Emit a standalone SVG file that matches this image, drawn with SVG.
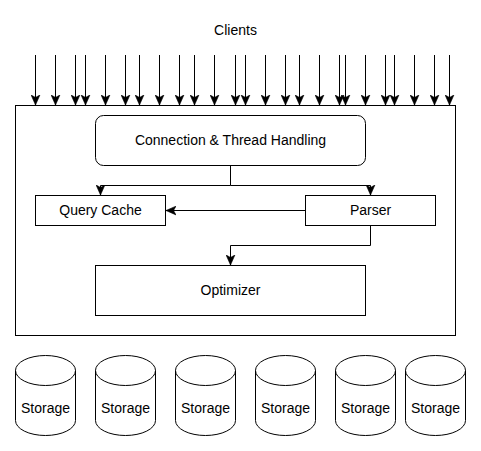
<svg xmlns="http://www.w3.org/2000/svg" width="481" height="451" viewBox="0 0 481 451">
<style>
.box{fill:#fff;stroke:#000;stroke-width:1}
.lbl{font-family:"Liberation Sans",Arial,Helvetica,sans-serif;font-size:14px;fill:#000;text-anchor:middle}
.edge{fill:none;stroke:#000;stroke-width:1}
</style>
<defs>
<marker id="arr" markerUnits="userSpaceOnUse" markerWidth="10" markerHeight="10" viewBox="0 0 8 8" refX="8" refY="4" orient="auto">
<path d="M0,0.5 L8,4 L0,7.5 L2,4 Z" fill="#000" stroke="#000" stroke-width="0.5"/>
</marker>
<g id="cyl">
<path class="box" d="M0,15 A30,15 0 0 1 60,15 V65 A30,15 0 0 1 0,65 Z"/>
<path class="edge" d="M0,15 A30,15 0 0 0 60,15"/>
</g>
</defs>
<rect width="481" height="451" fill="#fff"/>
<g id="clients-label"><text class="lbl" x="235.5" y="35">Clients</text></g>
<g id="server"><rect class="box" x="15.5" y="105.5" width="440" height="230"/></g>
<g id="connection"><rect class="box" x="95.5" y="115.5" width="270" height="50" rx="8" ry="8"/><text class="lbl" x="230.5" y="145">Connection &amp; Thread Handling</text></g>
<g id="query-cache"><rect class="box" x="35.5" y="195.5" width="130" height="30"/><text class="lbl" x="100.5" y="215">Query Cache</text></g>
<g id="parser"><rect class="box" x="305.5" y="195.5" width="130" height="30"/><text class="lbl" x="370.5" y="215">Parser</text></g>
<g id="optimizer"><rect class="box" x="95.5" y="265.5" width="270" height="50"/><text class="lbl" x="230.5" y="295">Optimizer</text></g>
<g id="connectors">
<path class="edge" d="M230.5,165.5 V185.5 H100.5 V195" marker-end="url(#arr)"/>
<path class="edge" d="M230.5,185.5 H370.5 V195" marker-end="url(#arr)"/>
<path class="edge" d="M305.5,210.5 H166" marker-end="url(#arr)"/>
<path class="edge" d="M370.5,225.5 V245.5 H230.5 V265" marker-end="url(#arr)"/>
<g id="client-arrows">
<path class="edge" d="M35.5,55 V105" marker-end="url(#arr)"/>
<path class="edge" d="M55.5,55 V105" marker-end="url(#arr)"/>
<path class="edge" d="M75.5,55 V105" marker-end="url(#arr)"/>
<path class="edge" d="M85.5,55 V105" marker-end="url(#arr)"/>
<path class="edge" d="M105.5,55 V105" marker-end="url(#arr)"/>
<path class="edge" d="M125.5,55 V105" marker-end="url(#arr)"/>
<path class="edge" d="M139.5,55 V105" marker-end="url(#arr)"/>
<path class="edge" d="M159.5,55 V105" marker-end="url(#arr)"/>
<path class="edge" d="M179.5,55 V105" marker-end="url(#arr)"/>
<path class="edge" d="M194.5,55 V105" marker-end="url(#arr)"/>
<path class="edge" d="M214.5,55 V105" marker-end="url(#arr)"/>
<path class="edge" d="M235.5,55 V105" marker-end="url(#arr)"/>
<path class="edge" d="M245.5,55 V105" marker-end="url(#arr)"/>
<path class="edge" d="M265.5,55 V105" marker-end="url(#arr)"/>
<path class="edge" d="M285.5,55 V105" marker-end="url(#arr)"/>
<path class="edge" d="M299.5,55 V105" marker-end="url(#arr)"/>
<path class="edge" d="M319.5,55 V105" marker-end="url(#arr)"/>
<path class="edge" d="M339.5,55 V105" marker-end="url(#arr)"/>
<path class="edge" d="M345.5,55 V105" marker-end="url(#arr)"/>
<path class="edge" d="M365.5,55 V105" marker-end="url(#arr)"/>
<path class="edge" d="M385.5,55 V105" marker-end="url(#arr)"/>
<path class="edge" d="M394.5,55 V105" marker-end="url(#arr)"/>
<path class="edge" d="M414.5,55 V105" marker-end="url(#arr)"/>
<path class="edge" d="M434.5,55 V105" marker-end="url(#arr)"/>
<path class="edge" d="M449.5,55 V105" marker-end="url(#arr)"/>
</g>
</g>
<g id="storage-1"><use href="#cyl" x="15.5" y="355.5"/><text class="lbl" x="45.5" y="413">Storage</text></g>
<g id="storage-2"><use href="#cyl" x="95.5" y="355.5"/><text class="lbl" x="125.5" y="413">Storage</text></g>
<g id="storage-3"><use href="#cyl" x="175.5" y="355.5"/><text class="lbl" x="205.5" y="413">Storage</text></g>
<g id="storage-4"><use href="#cyl" x="255.5" y="355.5"/><text class="lbl" x="285.5" y="413">Storage</text></g>
<g id="storage-5"><use href="#cyl" x="335.5" y="355.5"/><text class="lbl" x="365.5" y="413">Storage</text></g>
<g id="storage-6"><use href="#cyl" x="405.5" y="355.5"/><text class="lbl" x="435.5" y="413">Storage</text></g>
</svg>
